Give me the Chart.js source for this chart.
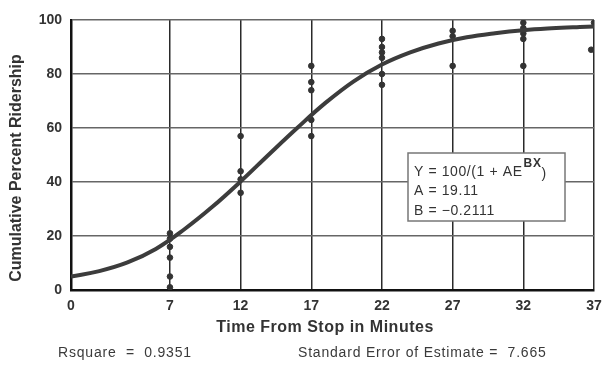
<!DOCTYPE html>
<html><head><meta charset="utf-8">
<script src="https://cdn.jsdelivr.net/npm/chart.js@4/dist/chart.umd.min.js"></script>
<style>html,body{margin:0;padding:0;background:#fff}#wrap{width:613px;height:379px;position:relative}</style>
</head><body><div id="wrap"><canvas id="c" width="613" height="379"></canvas></div>
<script>
// ---- data ----
const xTicks = [0, 7, 12, 17, 22, 27, 32, 37];
const yTicks = [0, 20, 40, 60, 80, 100];
const obsX = [7,7,7,7,7,7, 12,12,12,12, 17,17,17,17,17, 22,22,22,22,22,22, 27,27,27, 32,32,32,32,32, 37,36.8];
const obsY = [21,19,16,12,5,1, 57,44,41,36, 83,77,74,63,57, 93,90,88,86,80,76, 96,94,83, 99,97,95,93,83, 99,89];
const curveX = [0, 2, 4, 6, 8, 10, 12, 14, 16, 18, 20, 22, 24, 26, 28, 30, 32, 34, 36, 37];
const curveY = [5, 7, 10.2, 15.2, 22.4, 30.8, 40.2, 50.2, 60, 69.3, 77.3, 83.5, 88, 91.3, 93.6, 95.1, 96.2, 96.9, 97.4, 97.6];
const yTitle = "Cumulative Percent Ridership";
const xTitle = "Time From Stop in Minutes";
const footLeft = "Rsquare  =  0.9351";
const footRight = "Standard Error of Estimate =  7.665";
const boxLines = ["Y = 100/(1 + AE", "BX", ")", "A = 19.11", "B = \u22120.2111"];

const FONT = "'Liberation Sans', Arial, Helvetica, sans-serif";

const overlay = {
  id: 'overlay',
  afterDraw(chart) {
    const ctx = chart.ctx;
    ctx.save();
    // y title
    ctx.fillStyle = '#333';
    ctx.font = "bold 16px " + FONT;
    ctx.textAlign = 'center';
    ctx.textBaseline = 'middle';
    ctx.translate(17, 168);
    ctx.rotate(-Math.PI / 2);
    ctx.fillText(yTitle, 0, 0);
    ctx.setTransform(1, 0, 0, 1, 0, 0);
    // x title
    ctx.font = "bold 16px " + FONT;
    ctx.letterSpacing = '0.5px';
    ctx.fillText(xTitle, 325, 328);
    // footer
    ctx.font = "14px " + FONT;
    ctx.letterSpacing = '0.8px';
    ctx.fillStyle = '#3a3a3a';
    ctx.textAlign = 'left';
    ctx.fillText(footLeft, 58, 353);
    ctx.fillText(footRight, 298, 353);
    // equation box
    const bx = 408, by = 153, bw = 157, bh = 68;
    ctx.fillStyle = '#fff';
    ctx.fillRect(bx, by, bw, bh);
    ctx.strokeStyle = '#777';
    ctx.lineWidth = 1.5;
    ctx.strokeRect(bx, by, bw, bh);
    ctx.fillStyle = '#333';
    ctx.font = "14px " + FONT;
    ctx.letterSpacing = '0.6px';
    ctx.textBaseline = 'alphabetic';
    let x = bx + 6;
    ctx.fillText(boxLines[0], x, by + 23);
    x += ctx.measureText(boxLines[0]).width + 1;
    ctx.font = "bold 12px " + FONT;
    ctx.fillText(boxLines[1], x, by + 14);
    x += ctx.measureText(boxLines[1]).width;
    ctx.font = "14px " + FONT;
    ctx.fillText(boxLines[2], x, by + 25);
    ctx.fillText(boxLines[3], bx + 6, by + 42);
    ctx.fillText(boxLines[4], bx + 6, by + 62);
    ctx.restore();
  }
};

new Chart(document.getElementById('c'), {
  data: {
    datasets: [
      {
        type: 'line',
        data: curveX.map((x, i) => ({x, y: curveY[i]})),
        borderColor: '#3c3c3c',
        borderWidth: 4,
        pointRadius: 0,
        tension: 0.4,
        fill: false,
        order: 1
      },
      {
        type: 'scatter',
        data: obsX.map((x, i) => ({x, y: obsY[i]})),
        backgroundColor: '#333',
        borderColor: '#333',
        pointRadius: 2.8,
        order: 2
      }
    ]
  },
  options: {
    responsive: false,
    animation: false,
    devicePixelRatio: 1,
    layout: {padding: {left: 0, right: 19, top: 20, bottom: 0}},
    plugins: {legend: {display: false}, tooltip: {enabled: false}},
    scales: {
      x: {
        type: 'linear',
        min: 0, max: 37,
        afterBuildTicks(scale) { scale.ticks = xTicks.map(v => ({value: v})); },
        afterFit(scale) { scale.height = 89; },
        grid: {color: '#2a2a2a', lineWidth: 1.5, drawTicks: false},
        border: {display: true, color: '#111', width: 2.5},
        ticks: {color: '#333', padding: 8, maxRotation: 0, autoSkip: false,
          font: {family: FONT, size: 14, weight: 'bold'}}
      },
      y: {
        type: 'linear',
        min: 0, max: 100,
        afterBuildTicks(scale) { scale.ticks = yTicks.map(v => ({value: v})); },
        afterFit(scale) { scale.width = 71; },
        grid: {color: '#666', lineWidth: 1.5, drawTicks: false},
        border: {display: true, color: '#111', width: 2.5},
        ticks: {color: '#333', padding: 9,
          font: {family: FONT, size: 14, weight: 'bold'}}
      }
    }
  },
  plugins: [overlay]
});
</script>
</body></html>
